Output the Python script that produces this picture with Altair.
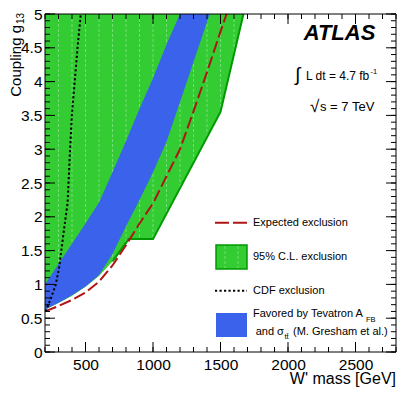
import altair as alt
import pandas as pd

FONT = "Liberation Sans"

# ---- data ----
# 95% C.L. observed exclusion boundary (region above/left is excluded)
obs_x = [200, 300, 400, 500, 600, 700, 820, 1000, 1500, 1670]
obs_y = [0.62, 0.72, 0.83, 0.96, 1.12, 1.34, 1.67, 1.67, 3.55, 5.0]

# expected exclusion (red dashed)
exp_x = [200, 300, 400, 500, 600, 700, 800, 900, 1000, 1100, 1200, 1300, 1400, 1500, 1545]
exp_y = [0.6, 0.68, 0.77, 0.88, 1.04, 1.28, 1.58, 1.9, 2.2, 2.6, 3.0, 3.56, 4.14, 4.74, 5.0]

# CDF exclusion (black dotted)
cdf_x = [205, 245, 280, 305, 340, 367, 386, 399, 420, 441, 465]
cdf_y = [0.6, 0.8, 1.0, 1.25, 1.8, 2.2, 3.0, 3.5, 4.0, 4.5, 5.0]

# region favored by Tevatron A_FB (blue band)
blue_x = [200, 300, 400, 500, 600, 700, 800, 900, 1000, 1100, 1200, 1300, 1420]
blue_lo = [0.63, 0.73, 0.84, 0.97, 1.14, 1.45, 1.86, 2.25, 2.66, 3.11, 3.70, 4.29, 5.0]
blue_hi = [1.0, 1.3, 1.6, 1.9, 2.21, 2.66, 3.12, 3.6, 4.05, 4.55, 5.0, 5.0, 5.0]

# hatch lines of the green fill
hatch_x = [300, 400, 500, 600, 700, 800, 900, 1000, 1100, 1200, 1300, 1400, 1500, 1600]

# axis ticks / labels
x_minor = list(range(200, 2801, 100))
x_major = [500, 1000, 1500, 2000, 2500]
y_minor = [round(i * 0.1, 1) for i in range(51)]
y_major = [i * 0.5 for i in range(11)]

W, H = 351, 338
GREEN = "#33cc33"
GREEN_EDGE = "#009900"
HATCH = "#74dc74"
BLUE = "#3a62ea"
RED = "#b01515"

obs = pd.DataFrame({"x": obs_x, "y": obs_y})
exp = pd.DataFrame({"x": exp_x, "y": exp_y})
cdf = pd.DataFrame({"x": cdf_x, "y": cdf_y})
blue = pd.DataFrame({"x": blue_x, "lo": blue_lo, "hi": blue_hi})
one = pd.DataFrame({"a": [0]})

xs = alt.Scale(domain=[200, 2800], nice=False, zero=False)
ys = alt.Scale(domain=[0, 5], nice=False, zero=False)
xaxis = alt.Axis(values=x_major, ticks=False, tickSize=0, domain=False, grid=False,
                 title=None, labelFont=FONT, labelFontSize=15.5, labelColor="black",
                 labelPadding=5, labelOverlap=False, format="d", zindex=1)
yaxis = alt.Axis(values=y_major, ticks=False, tickSize=0, domain=False, grid=False,
                 title=None, labelFont=FONT, labelFontSize=15.5, labelColor="black",
                 labelPadding=3, labelOverlap=False, format="~g", zindex=1)


def X(f):
    return alt.X(f, type="quantitative", scale=xs, axis=xaxis)


def Y(f):
    return alt.Y(f, type="quantitative", scale=ys, axis=yaxis)


green = alt.Chart(obs).mark_area(color=GREEN, opacity=1).encode(
    x=X("x"), y=Y("y"), y2=alt.datum(5))
hatch = alt.Chart(pd.DataFrame({"x": hatch_x})).mark_rule(
    color=HATCH, strokeWidth=1, strokeDash=[3, 2]).encode(
    x=X("x"), y=alt.value(0), y2=alt.value(H))
white = alt.Chart(obs).mark_area(color="white", opacity=1).encode(
    x=X("x"), y=Y("y"), y2=alt.datum(0))
green_edge = alt.Chart(obs).transform_filter(alt.datum.x >= 700).mark_line(
    color=GREEN_EDGE, strokeWidth=2).encode(x=X("x"), y=Y("y"))
blue_band = alt.Chart(blue).mark_area(color=BLUE, opacity=1).encode(
    x=X("x"), y=Y("lo"), y2="hi")
exp_line = alt.Chart(exp).mark_line(color=RED, strokeWidth=2, strokeDash=[12, 4]).encode(
    x=X("x"), y=Y("y"))
cdf_line = alt.Chart(cdf).mark_line(color="black", strokeWidth=2, strokeDash=[2.2, 2.3]).encode(
    x=X("x"), y=Y("y"))

frame = alt.Chart(one).mark_rect(filled=False, fillOpacity=0, stroke="black", strokeWidth=1).encode(
    x=alt.value(0), x2=alt.value(W), y=alt.value(0), y2=alt.value(H))


def xticks(vals, ln):
    d = pd.DataFrame({"v": vals})
    b = alt.Chart(d).mark_rule(color="black", strokeWidth=1).encode(
        x=X("v"), y=alt.value(H), y2=alt.value(H - ln))
    t = alt.Chart(d).mark_rule(color="black", strokeWidth=1).encode(
        x=X("v"), y=alt.value(0), y2=alt.value(ln))
    return [b, t]


def yticks(vals, ln):
    d = pd.DataFrame({"v": vals})
    l = alt.Chart(d).mark_rule(color="black", strokeWidth=1).encode(
        y=Y("v"), x=alt.value(0), x2=alt.value(ln))
    r = alt.Chart(d).mark_rule(color="black", strokeWidth=1).encode(
        y=Y("v"), x=alt.value(W), x2=alt.value(W - ln))
    return [l, r]


ticks = xticks(x_minor, 5) + xticks(x_major, 10) + yticks(y_minor, 5) + yticks(y_major, 10)


def txt(s, x, y, size, align="left", baseline="alphabetic", **kw):
    return alt.Chart(one).mark_text(text=s, font=FONT, fontSize=size, align=align,
                                    baseline=baseline, color="black", **kw).encode(
        x=alt.value(x), y=alt.value(y))


def rule(x, x2, y, **kw):
    return alt.Chart(one).mark_rule(**kw).encode(x=alt.value(x), x2=alt.value(x2), y=alt.value(y))


def vrule(x, y, y2, **kw):
    return alt.Chart(one).mark_rule(**kw).encode(x=alt.value(x), y=alt.value(y), y2=alt.value(y2))


def box(x, x2, y, y2, **kw):
    return alt.Chart(one).mark_rect(**kw).encode(
        x=alt.value(x), x2=alt.value(x2), y=alt.value(y), y2=alt.value(y2))


legend = [
    rule(170, 202, 208.7, color=RED, strokeWidth=2, strokeDash=[14, 4]),
    txt("Expected exclusion", 208, 208.5, 11, baseline="middle"),
    box(171, 202, 231, 255, color=GREEN, stroke=GREEN_EDGE, strokeWidth=1.5),
    vrule(180, 232, 254, color=HATCH, strokeWidth=1, strokeDash=[3, 2]),
    vrule(193, 232, 254, color=HATCH, strokeWidth=1, strokeDash=[3, 2]),
    txt("95% C.L. exclusion", 208, 243, 11, baseline="middle"),
    rule(170, 202, 276.7, color="black", strokeWidth=2, strokeDash=[2.2, 2.3]),
    txt("CDF exclusion", 208, 277, 11, baseline="middle"),
    box(171, 202, 299, 323, color=BLUE),
    txt("Favored by Tevatron A", 208, 300.3, 11, baseline="middle"),
    txt("FB", 321, 306, 7.5, baseline="middle"),
    txt("and σ", 210.7, 317.7, 11, baseline="middle"),
    txt("tt̄", 239.5, 323, 7.5, baseline="middle"),
    txt("(M. Gresham et al.)", 248, 317.7, 11, baseline="middle"),
]

labels = [
    txt("ATLAS", 294.5, 26, 22, align="center", fontStyle="italic", fontWeight="bold"),
    txt("∫", 252.5, 61, 19, align="center", baseline="middle"),
    txt("L dt = 4.7 fb", 261, 66, 12),
    txt("-1", 325.5, 59.5, 7.5),
    txt("√", 265, 97.5, 17),
    txt("s = 7 TeV", 275, 96.7, 13),
    txt("W' mass [GeV]", W, 370, 16, align="right"),
    txt("Coupling g", -24.5, 11, 15, align="right", angle=270),
    txt("13", -21.5, 10, 10, align="left", angle=270),
]

chart = alt.layer(
    green, hatch, white, green_edge, blue_band, exp_line, cdf_line,
    *ticks, frame, *legend, *labels
).properties(
    width=W, height=H,
    padding={"left": 37, "top": 6, "right": 5, "bottom": 35},
    autosize=alt.AutoSizeParams(type="none"),
    background="white",
).configure_view(stroke=None)

chart.save("out.html", embed_options={"renderer": "svg", "actions": False})
